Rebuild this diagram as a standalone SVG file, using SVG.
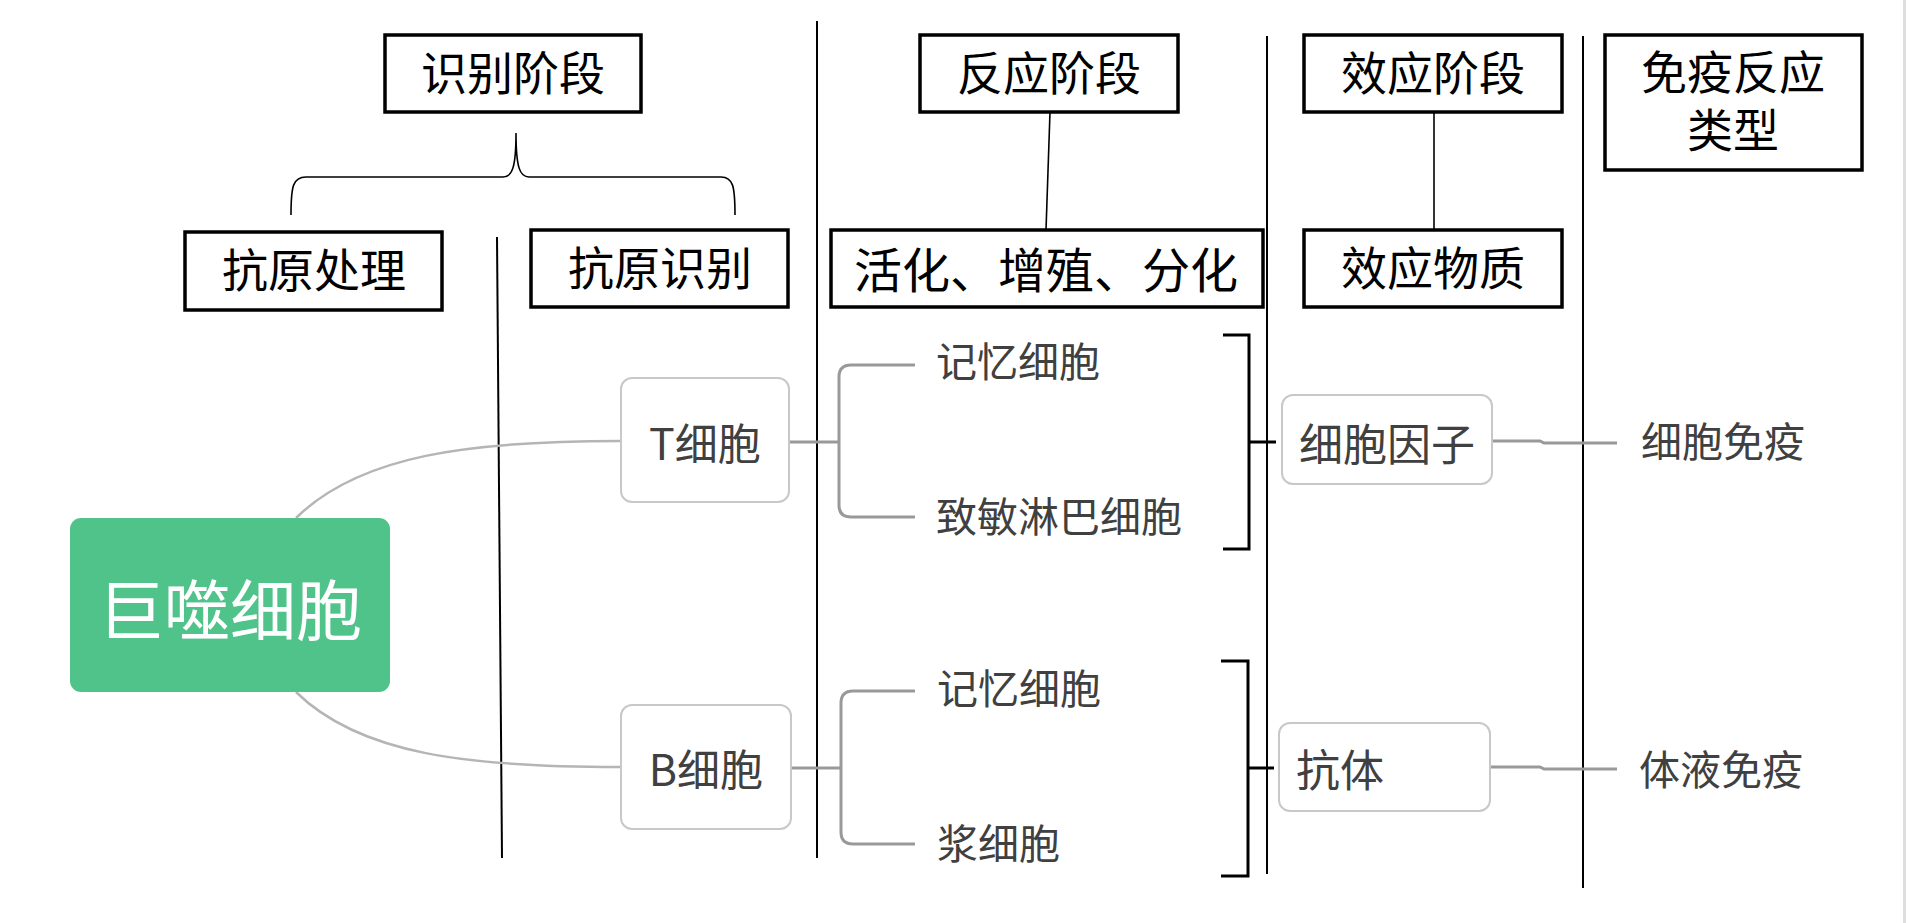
<svg xmlns="http://www.w3.org/2000/svg" width="1906" height="923" viewBox="0 0 1906 923">
<style>
.hbox{fill:#fff;stroke:#000;stroke-width:3.5}
.ht{font-family:"Noto Sans CJK SC","Noto Sans",sans-serif;font-size:46px;fill:#000;text-anchor:middle}
.sep{stroke:#000;stroke-width:2;fill:none}
.thin{stroke:#000;stroke-width:1.6;fill:none}
.mbox{fill:#fff;stroke:#c8c8c8;stroke-width:2}
.mt{font-family:"Noto Sans CJK SC","Noto Sans",sans-serif;fill:#404040}
.curve{stroke:#b5b5b5;stroke-width:2.5;fill:none}
.gl{stroke:#999;stroke-width:3;fill:none}
.bk{stroke:#000;stroke-width:3;fill:none}
</style>
<rect x="0" y="0" width="1906" height="923" fill="#fff"/>
<rect x="1903" y="0" width="3" height="923" fill="#dedede"/>

<g id="connectors">
  <line class="sep" x1="497" y1="237" x2="502" y2="858"/>
  <line class="sep" x1="817" y1="21" x2="817" y2="858"/>
  <line class="sep" x1="1267" y1="36" x2="1267" y2="874"/>
  <line class="sep" x1="1583" y1="36" x2="1583" y2="888"/>
  <path class="thin" d="M291,215 C291,186 293,177 306,177 H503 C512,177 516,168 516,133 C516,168 520,177 529,177 H721 C733,177 735,186 735,215"/>
  <line class="thin" x1="1050" y1="112" x2="1046" y2="230"/>
  <line class="thin" x1="1434" y1="112" x2="1434" y2="230"/>
  <path class="curve" d="M296,518 C360,455 470,441 620,441"/>
  <path class="curve" d="M296,692 C360,755 470,767 620,767"/>
  <path class="gl" d="M789,442 H839 M915,365 H851 Q839,365 839,377 V505 Q839,517 851,517 H915"/>
  <path class="gl" d="M791,768 H841 M915,691 H853 Q841,691 841,703 V832 Q841,844 853,844 H915"/>
  <path class="bk" d="M1223,335 H1249 V549 H1223 M1249,442 H1276"/>
  <path class="bk" d="M1221,661 H1248 V876 H1221 M1248,768 H1274"/>
  <path class="gl" d="M1492,441 H1540 L1544,443 H1617"/>
  <path class="gl" d="M1490,767 H1540 L1544,769 H1617"/>
</g>

<g id="stage-recognition">
  <rect class="hbox" x="385" y="35" width="256" height="77"/>
  <text class="ht" x="513" y="90">识别阶段</text>
</g>
<g id="stage-reaction">
  <rect class="hbox" x="920" y="35" width="258" height="77"/>
  <text class="ht" x="1049" y="90">反应阶段</text>
</g>
<g id="stage-effect">
  <rect class="hbox" x="1304" y="35" width="258" height="77"/>
  <text class="ht" x="1433" y="90">效应阶段</text>
</g>
<g id="stage-type">
  <rect class="hbox" x="1605" y="35" width="257" height="135"/>
  <text class="ht" x="1733" y="89">免疫反应</text>
  <text class="ht" x="1733" y="147">类型</text>
</g>
<g id="antigen-processing">
  <rect class="hbox" x="185" y="232" width="257" height="78"/>
  <text class="ht" x="314" y="287">抗原处理</text>
</g>
<g id="antigen-recognition">
  <rect class="hbox" x="531" y="230" width="257" height="77"/>
  <text class="ht" x="660" y="285">抗原识别</text>
</g>
<g id="activation">
  <rect class="hbox" x="831" y="230" width="432" height="77"/>
  <text class="ht" x="1046" y="288" style="font-size:48px">活化、增殖、分化</text>
</g>
<g id="effector-substance">
  <rect class="hbox" x="1304" y="230" width="258" height="77"/>
  <text class="ht" x="1433" y="285">效应物质</text>
</g>

<g id="macrophage">
  <rect x="70" y="518" width="320" height="174" rx="11" fill="#50c38a"/>
  <text class="mt" x="230" y="635" text-anchor="middle" style="font-size:66px;fill:#fff">巨噬细胞</text>
</g>
<g id="t-cell">
  <rect class="mbox" x="621" y="378" width="168" height="124" rx="11"/>
  <text class="mt" x="705" y="460" text-anchor="middle" style="font-size:43px">T细胞</text>
</g>
<g id="b-cell">
  <rect class="mbox" x="621" y="705" width="170" height="124" rx="11"/>
  <text class="mt" x="706" y="786" text-anchor="middle" style="font-size:43px">B细胞</text>
</g>
<g id="t-memory">
  <text class="mt" x="936" y="377" style="font-size:41px">记忆细胞</text>
</g>
<g id="sensitized-lymphocyte">
  <text class="mt" x="936" y="532" style="font-size:41px">致敏淋巴细胞</text>
</g>
<g id="b-memory">
  <text class="mt" x="937" y="704" style="font-size:41px">记忆细胞</text>
</g>
<g id="plasma-cell">
  <text class="mt" x="937" y="859" style="font-size:41px">浆细胞</text>
</g>
<g id="cytokine">
  <rect class="mbox" x="1282" y="395" width="210" height="89" rx="11"/>
  <text class="mt" x="1387" y="461" text-anchor="middle" style="font-size:44px">细胞因子</text>
</g>
<g id="antibody">
  <rect class="mbox" x="1279" y="723" width="211" height="88" rx="11"/>
  <text class="mt" x="1296" y="787" style="font-size:44px">抗体</text>
</g>
<g id="cellular-immunity">
  <text class="mt" x="1641" y="457" style="font-size:41px">细胞免疫</text>
</g>
<g id="humoral-immunity">
  <text class="mt" x="1639" y="785" style="font-size:41px">体液免疫</text>
</g>
</svg>
